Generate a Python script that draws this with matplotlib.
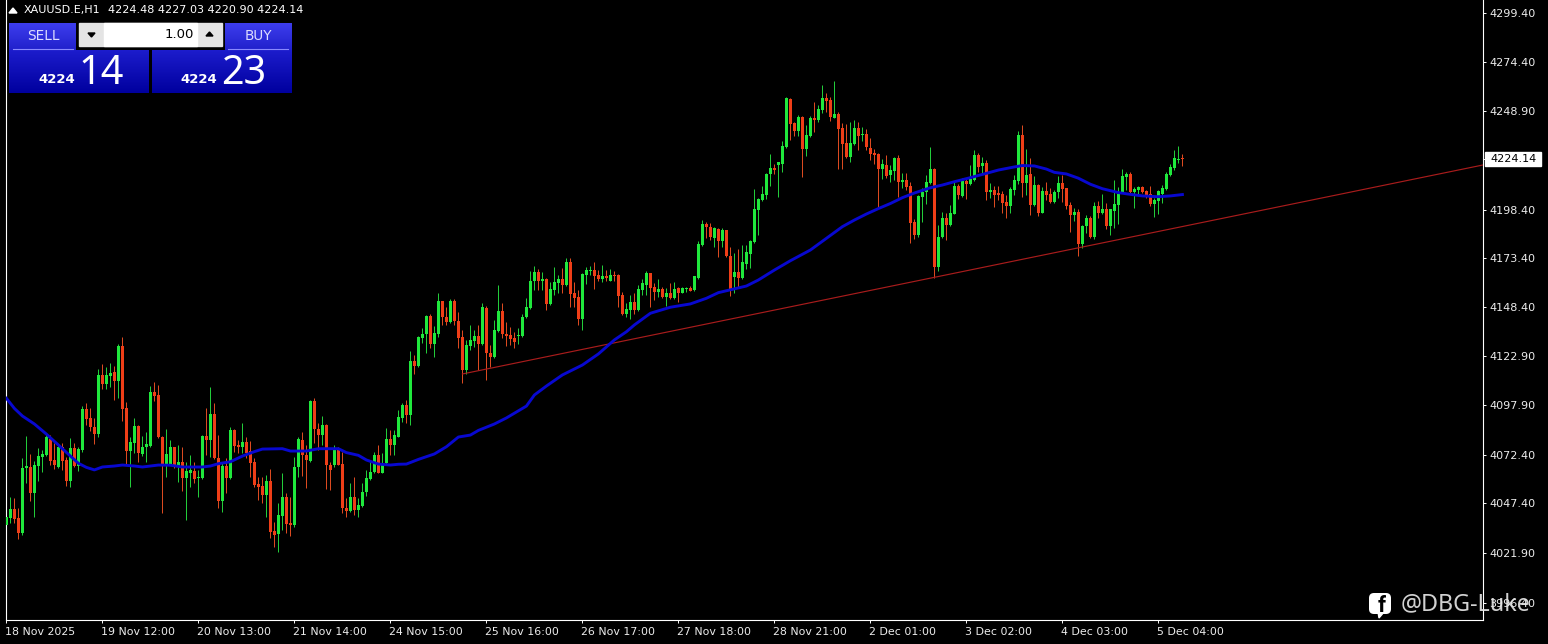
import numpy as np
from matplotlib import pyplot as plt
from matplotlib.patches import FancyBboxPatch, Polygon, Rectangle
from matplotlib.transforms import ScaledTranslation

# hourly XAUUSD candles
opens = [
    4036.3, 4039.7, 4044.5, 4039.7, 4032.0, 4065.4, 4065.9, 4052.9, 4066.6, 4071.1,
    4072.3, 4080.3, 4069.7, 4065.9, 4076.5, 4069.7, 4059.1, 4075.9, 4066.6, 4074.8,
    4095.7, 4091.1, 4086.8, 4083.0, 4113.4, 4108.8, 4112.9, 4114.9, 4110.5, 4128.3,
    4096.2, 4074.5, 4078.3, 4087.2, 4072.8, 4076.2, 4076.9, 4104.5, 4103.1, 4081.3,
    4067.6, 4067.6, 4076.2, 4066.3, 4068.7, 4060.3, 4063.2, 4064.2, 4060.3, 4060.3,
    4082.0, 4080.0, 4093.3, 4070.5, 4048.8, 4066.6, 4060.3, 4085.1, 4077.4, 4076.5,
    4079.1, 4074.5, 4068.5, 4057.4, 4056.3, 4051.7, 4059.1, 4033.2, 4031.7, 4040.9,
    4050.5, 4037.5, 4036.3, 4065.9, 4080.0, 4072.3, 4069.3, 4099.8, 4085.8, 4082.5,
    4087.7, 4067.3, 4067.3, 4074.8, 4067.6, 4045.2, 4043.5, 4050.5, 4044.0, 4046.0,
    4053.4, 4059.9, 4063.4, 4072.1, 4063.2, 4068.0, 4080.5, 4077.4, 4081.7, 4091.1,
    4097.8, 4092.8, 4120.5, 4118.0, 4132.5, 4134.4, 4143.7, 4129.3, 4134.5, 4151.3,
    4143.0, 4140.8, 4151.6, 4141.3, 4132.8, 4116.0, 4128.3, 4131.1, 4133.4, 4129.3,
    4147.7, 4124.9, 4122.5, 4136.2, 4146.3, 4134.5, 4133.8, 4132.2, 4133.4, 4133.4,
    4143.0, 4147.7, 4161.9, 4166.5, 4161.9, 4162.7, 4149.7, 4157.1, 4160.9, 4162.7,
    4159.7, 4171.6, 4155.4, 4153.3, 4142.2, 4164.8, 4167.0, 4167.4, 4164.8, 4162.6,
    4164.3, 4161.9, 4164.6, 4164.8, 4154.5, 4144.8, 4146.8, 4150.9, 4146.8, 4157.1,
    4159.5, 4165.7, 4158.5, 4156.1, 4157.4, 4153.3, 4155.4, 4152.8, 4157.9, 4155.7,
    4157.4, 4158.1, 4157.1, 4163.1, 4180.2, 4191.0, 4189.3, 4183.6, 4188.3, 4182.4,
    4187.9, 4174.6, 4163.6, 4166.2, 4163.1, 4170.4, 4175.6, 4181.9, 4198.1, 4203.3,
    4205.8, 4216.6, 4220.0, 4221.3, 4221.6, 4230.7, 4255.2, 4243.0, 4238.7, 4246.1,
    4229.5, 4236.3, 4245.6, 4244.4, 4249.5, 4255.5, 4254.7, 4245.6, 4247.3, 4240.1,
    4232.4, 4225.2, 4232.0, 4240.1, 4236.7, 4237.0, 4229.8, 4227.2, 4226.9, 4219.2,
    4221.3, 4216.1, 4218.2, 4224.7, 4212.7, 4213.4, 4210.5, 4191.8, 4185.3, 4204.8,
    4207.2, 4211.8, 4219.0, 4169.0, 4184.1, 4193.8, 4190.4, 4196.2, 4210.3, 4205.5,
    4213.0, 4211.4, 4213.6, 4226.4, 4220.8, 4222.2, 4207.3, 4208.3, 4206.9, 4206.4,
    4202.1, 4200.2, 4208.5, 4213.1, 4236.7, 4211.9, 4216.5, 4200.7, 4211.0, 4196.8,
    4207.9, 4206.2, 4202.1, 4207.3, 4212.1, 4209.3, 4200.7, 4195.6, 4196.9, 4180.5,
    4190.1, 4193.9, 4184.3, 4200.4, 4196.6, 4198.7, 4190.0, 4197.7, 4200.7, 4207.3,
    4215.1, 4216.7, 4207.3, 4208.3, 4210.0, 4208.0, 4206.2, 4201.1, 4202.8, 4206.6,
    4209.0, 4216.2, 4219.6, 4224.0, 4224.48,
]
highs = [
    4047.4, 4050.5, 4050.0, 4044.9, 4070.5, 4082.0, 4072.8, 4069.3, 4075.7, 4074.8,
    4083.0, 4082.5, 4078.3, 4077.4, 4078.3, 4071.4, 4080.8, 4078.3, 4076.5, 4097.4,
    4098.8, 4096.2, 4091.1, 4116.3, 4119.0, 4117.3, 4119.7, 4118.0, 4129.3, 4132.7,
    4099.7, 4081.3, 4091.1, 4087.7, 4082.0, 4084.3, 4107.7, 4110.0, 4108.2, 4082.0,
    4085.5, 4080.0, 4076.5, 4077.4, 4076.5, 4068.8, 4072.3, 4068.8, 4064.5, 4082.5,
    4096.2, 4107.0, 4098.8, 4082.5, 4068.0, 4070.5, 4086.8, 4085.5, 4080.0, 4088.5,
    4081.3, 4079.6, 4070.5, 4061.1, 4061.1, 4062.0, 4064.9, 4038.0, 4047.4, 4063.2,
    4052.6, 4050.9, 4071.4, 4081.3, 4084.3, 4077.4, 4100.5, 4101.4, 4088.5, 4092.3,
    4088.2, 4068.8, 4077.4, 4076.2, 4074.0, 4050.0, 4058.0, 4061.1, 4050.0, 4057.7,
    4064.5, 4069.7, 4074.0, 4077.4, 4073.1, 4086.0, 4085.1, 4085.1, 4095.4, 4098.8,
    4100.5, 4125.7, 4123.6, 4133.4, 4137.3, 4144.2, 4144.7, 4138.5, 4155.7, 4151.6,
    4148.2, 4152.3, 4152.3, 4146.0, 4136.5, 4131.4, 4139.1, 4136.5, 4139.1, 4150.6,
    4148.9, 4128.8, 4141.7, 4159.7, 4150.6, 4140.8, 4138.2, 4135.7, 4137.4, 4144.8,
    4152.8, 4167.0, 4169.4, 4167.7, 4166.5, 4163.1, 4161.4, 4169.1, 4164.8, 4168.2,
    4173.4, 4173.4, 4161.4, 4157.1, 4166.0, 4169.1, 4169.4, 4171.6, 4167.4, 4169.9,
    4167.4, 4167.7, 4167.0, 4165.3, 4156.2, 4150.2, 4154.5, 4155.4, 4159.7, 4162.6,
    4167.0, 4166.0, 4160.5, 4162.6, 4158.8, 4157.9, 4160.5, 4161.4, 4158.5, 4158.8,
    4158.8, 4159.1, 4164.3, 4182.4, 4193.0, 4192.2, 4191.7, 4189.3, 4188.8, 4188.8,
    4187.9, 4179.4, 4175.9, 4178.0, 4180.2, 4180.2, 4182.8, 4208.9, 4204.5, 4210.6,
    4217.0, 4226.9, 4221.6, 4222.8, 4233.6, 4256.2, 4255.5, 4243.5, 4246.9, 4246.6,
    4241.8, 4246.6, 4253.5, 4252.1, 4262.4, 4258.1, 4256.4, 4264.4, 4248.3, 4242.7,
    4242.2, 4243.5, 4244.4, 4243.5, 4241.0, 4239.7, 4235.3, 4229.5, 4227.2, 4224.3,
    4226.4, 4221.3, 4225.5, 4226.4, 4217.0, 4217.0, 4212.7, 4193.5, 4205.8, 4209.3,
    4216.1, 4230.5, 4219.5, 4190.4, 4196.9, 4196.4, 4200.7, 4212.3, 4211.3, 4214.4,
    4214.1, 4221.3, 4229.0, 4227.6, 4225.6, 4223.9, 4211.9, 4210.7, 4210.7, 4207.9,
    4205.9, 4210.2, 4216.2, 4238.8, 4241.9, 4229.5, 4224.7, 4215.7, 4211.4, 4210.2,
    4212.4, 4209.7, 4208.5, 4215.8, 4216.2, 4209.7, 4202.1, 4199.0, 4198.7, 4190.5,
    4195.6, 4195.3, 4202.1, 4202.8, 4206.2, 4201.6, 4198.7, 4213.6, 4210.2, 4219.2,
    4217.9, 4217.5, 4210.2, 4210.7, 4210.7, 4208.5, 4210.7, 4204.5, 4208.5, 4211.0,
    4217.5, 4221.6, 4229.0, 4231.2, 4227.03,
]
lows = [
    4030.3, 4037.5, 4037.1, 4029.3, 4031.2, 4057.7, 4048.8, 4040.6, 4059.1, 4063.7,
    4071.7, 4067.1, 4064.9, 4065.6, 4064.6, 4056.3, 4055.6, 4065.9, 4064.2, 4074.0,
    4087.7, 4084.8, 4077.9, 4081.3, 4106.0, 4106.0, 4107.4, 4100.5, 4101.4, 4089.9,
    4067.1, 4055.6, 4073.5, 4068.8, 4071.8, 4068.8, 4076.5, 4100.2, 4080.8, 4042.3,
    4061.1, 4067.1, 4065.4, 4058.6, 4053.9, 4038.9, 4056.0, 4058.0, 4050.9, 4059.9,
    4072.3, 4071.4, 4070.0, 4044.9, 4043.1, 4052.6, 4059.8, 4074.0, 4073.1, 4073.1,
    4070.5, 4061.1, 4056.0, 4049.1, 4047.8, 4040.2, 4029.4, 4024.8, 4022.6, 4033.7,
    4032.0, 4030.6, 4035.4, 4061.1, 4061.5, 4055.1, 4068.8, 4078.3, 4074.8, 4077.4,
    4054.6, 4054.3, 4066.3, 4067.1, 4042.6, 4040.6, 4043.1, 4041.4, 4040.2, 4045.7,
    4051.4, 4059.4, 4062.8, 4062.8, 4062.8, 4067.6, 4072.3, 4072.3, 4081.3, 4089.4,
    4088.5, 4087.7, 4113.9, 4117.6, 4130.0, 4124.5, 4127.4, 4122.8, 4133.1, 4139.1,
    4139.1, 4140.3, 4139.1, 4127.1, 4109.5, 4113.9, 4126.3, 4128.0, 4116.0, 4128.8,
    4110.8, 4117.3, 4122.0, 4135.7, 4132.2, 4128.3, 4128.8, 4127.1, 4129.3, 4133.1,
    4142.5, 4147.2, 4157.1, 4157.1, 4157.1, 4146.8, 4149.4, 4154.5, 4155.4, 4155.7,
    4159.1, 4148.5, 4148.5, 4139.1, 4136.5, 4160.2, 4164.8, 4157.6, 4161.9, 4161.4,
    4161.9, 4161.5, 4161.9, 4148.5, 4144.2, 4143.0, 4142.0, 4144.8, 4146.5, 4154.5,
    4154.5, 4148.2, 4151.9, 4153.3, 4152.8, 4148.9, 4152.3, 4152.3, 4151.1, 4155.4,
    4156.2, 4156.4, 4156.7, 4162.7, 4179.7, 4183.6, 4182.8, 4179.0, 4174.2, 4179.0,
    4173.9, 4154.0, 4155.7, 4158.5, 4162.6, 4167.7, 4168.2, 4181.3, 4185.3, 4202.7,
    4203.8, 4210.6, 4216.8, 4205.0, 4217.8, 4230.2, 4234.1, 4236.3, 4236.3, 4215.3,
    4226.0, 4235.8, 4238.4, 4243.2, 4247.8, 4248.7, 4243.9, 4245.2, 4219.2, 4219.2,
    4224.7, 4222.6, 4231.5, 4229.0, 4233.6, 4229.0, 4223.8, 4221.6, 4199.3, 4214.0,
    4214.4, 4212.7, 4213.5, 4205.0, 4209.3, 4208.4, 4181.0, 4183.2, 4184.4, 4192.1,
    4201.5, 4211.3, 4163.0, 4166.8, 4183.6, 4182.7, 4190.1, 4195.9, 4203.8, 4205.0,
    4203.8, 4211.0, 4213.3, 4217.5, 4217.0, 4203.3, 4204.2, 4199.9, 4203.3, 4196.8,
    4194.2, 4196.8, 4205.9, 4211.4, 4205.0, 4205.9, 4195.6, 4200.4, 4195.3, 4196.5,
    4203.3, 4201.8, 4201.8, 4204.2, 4202.1, 4198.7, 4187.0, 4192.5, 4174.7, 4178.5,
    4186.2, 4184.0, 4183.3, 4193.9, 4196.3, 4188.4, 4185.3, 4188.8, 4190.8, 4206.7,
    4208.5, 4206.7, 4199.4, 4205.9, 4207.1, 4204.2, 4200.4, 4194.8, 4196.1, 4201.6,
    4208.5, 4215.8, 4218.7, 4222.2, 4220.9,
]
closes = [
    4040.6, 4044.5, 4039.4, 4032.3, 4065.4, 4066.6, 4052.9, 4067.1, 4071.7, 4072.8,
    4081.7, 4069.3, 4067.1, 4076.5, 4069.3, 4059.1, 4075.9, 4066.6, 4075.2, 4095.9,
    4090.8, 4086.8, 4083.0, 4113.4, 4108.8, 4113.4, 4114.6, 4110.5, 4128.3, 4096.1,
    4074.5, 4079.1, 4087.2, 4073.5, 4076.5, 4077.9, 4104.8, 4102.6, 4081.3, 4067.6,
    4072.8, 4076.2, 4067.1, 4068.7, 4060.3, 4064.2, 4064.5, 4059.9, 4061.1, 4082.0,
    4080.0, 4093.3, 4070.5, 4048.8, 4066.6, 4060.3, 4085.1, 4076.9, 4076.2, 4079.1,
    4073.5, 4068.3, 4056.8, 4056.0, 4051.7, 4059.1, 4032.9, 4031.2, 4041.4, 4050.5,
    4036.8, 4036.3, 4066.3, 4080.3, 4072.3, 4069.7, 4100.2, 4085.5, 4082.5, 4087.7,
    4067.3, 4064.5, 4075.2, 4067.3, 4044.9, 4043.5, 4050.5, 4044.0, 4046.6, 4053.4,
    4060.3, 4063.4, 4072.1, 4063.2, 4067.6, 4080.3, 4077.4, 4082.5, 4091.6, 4097.8,
    4092.8, 4120.5, 4118.2, 4133.0, 4134.4, 4143.7, 4129.3, 4135.1, 4151.6, 4143.0,
    4140.8, 4151.6, 4141.3, 4132.2, 4116.0, 4128.8, 4131.4, 4133.4, 4129.3, 4148.2,
    4124.9, 4122.5, 4136.5, 4146.3, 4134.5, 4133.4, 4131.7, 4130.4, 4134.0, 4143.4,
    4148.2, 4161.9, 4166.3, 4161.9, 4162.6, 4149.9, 4157.6, 4161.4, 4162.7, 4159.7,
    4171.6, 4155.0, 4153.1, 4142.2, 4165.3, 4167.4, 4167.4, 4164.5, 4162.6, 4164.5,
    4163.1, 4164.8, 4164.3, 4154.0, 4144.8, 4147.3, 4150.9, 4146.8, 4157.6, 4160.5,
    4166.0, 4157.9, 4156.1, 4157.4, 4153.3, 4155.4, 4152.8, 4157.8, 4155.7, 4158.3,
    4158.1, 4156.7, 4164.0, 4180.7, 4191.0, 4189.3, 4184.2, 4188.8, 4182.4, 4187.9,
    4174.6, 4157.4, 4166.5, 4163.3, 4171.6, 4176.8, 4182.4, 4198.6, 4203.8, 4206.2,
    4216.6, 4220.0, 4218.8, 4222.6, 4231.2, 4255.9, 4242.3, 4238.7, 4246.1, 4229.5,
    4236.7, 4245.6, 4244.4, 4250.0, 4255.5, 4254.1, 4246.1, 4247.3, 4239.8, 4232.0,
    4225.2, 4232.4, 4240.1, 4236.3, 4237.0, 4230.7, 4226.7, 4226.4, 4219.2, 4221.9,
    4215.8, 4218.5, 4225.0, 4212.7, 4213.4, 4210.1, 4191.6, 4185.3, 4205.5, 4207.2,
    4212.3, 4219.2, 4169.0, 4184.4, 4193.8, 4190.4, 4196.6, 4210.3, 4205.8, 4213.0,
    4211.7, 4214.1, 4226.4, 4220.4, 4222.2, 4207.6, 4208.5, 4205.9, 4205.9, 4201.9,
    4200.2, 4209.0, 4213.6, 4236.7, 4211.9, 4216.2, 4200.7, 4211.0, 4196.5, 4207.9,
    4205.9, 4202.1, 4207.6, 4212.1, 4209.0, 4200.4, 4195.6, 4197.3, 4180.5, 4190.1,
    4194.2, 4184.5, 4200.4, 4196.5, 4198.7, 4190.1, 4198.5, 4201.1, 4206.2, 4215.8,
    4216.9, 4207.3, 4209.0, 4210.2, 4207.6, 4205.9, 4201.1, 4203.3, 4208.0, 4209.7,
    4216.7, 4220.4, 4224.7, 4224.4, 4224.14,
]

# moving average, read at these bars
ma_bars = [
    0, 2, 4, 7, 10, 13, 16, 18, 20, 22, 24, 27, 29, 32, 34, 38, 41, 44, 49, 51,
    53, 56, 59, 62, 64, 69, 71, 75, 78, 83, 85, 88, 90, 93, 96, 98, 100, 103, 107,
    110, 113, 116, 118, 122, 125, 130, 132, 135, 139, 144, 148, 152, 155, 157,
    161, 166, 171, 175, 178, 185, 188, 192, 196, 201, 205, 209, 212, 215,
    218, 221, 224, 227, 231, 234, 237, 241, 245, 248, 252, 254, 257, 260, 262,
    265, 268, 271, 274, 278, 281, 284, 288, 291, 294,
]
ma_values = [
    4101.4, 4096.2, 4092.3, 4088.2, 4083.0, 4077.4, 4071.7, 4068.0, 4065.9, 4064.6,
    4066.1, 4066.6, 4067.1, 4066.6, 4066.1, 4067.1, 4067.0, 4066.1, 4066.1, 4066.6,
    4067.8, 4068.8, 4071.7, 4074.0, 4075.3, 4075.5, 4074.3, 4074.3, 4075.5, 4075.5,
    4073.5, 4072.1, 4069.7, 4067.6, 4067.1, 4067.5, 4067.6, 4070.0, 4072.8, 4076.5,
    4081.5, 4082.5, 4084.9, 4088.2, 4091.3, 4097.4, 4103.1, 4107.7, 4113.4, 4118.5,
    4124.2, 4131.4, 4135.6, 4139.1, 4145.1, 4148.2, 4149.9, 4152.8, 4155.7, 4159.1,
    4162.2, 4167.3, 4172.1, 4177.6, 4183.6, 4189.6, 4193.0, 4196.1, 4198.9,
    4201.5, 4204.5, 4206.9, 4209.6, 4211.0, 4212.7, 4214.8, 4217.0, 4218.7, 4220.3,
    4221.0, 4220.8, 4219.2, 4217.5, 4216.7, 4214.5, 4211.4, 4209.1, 4207.1, 4206.2,
    4205.4, 4205.0, 4205.4, 4206.1,
]

# trend line anchors, it runs off the right edge
trend_bars = [114, 369.15]
trend_prices = [4113.9, 4221.3]

price_ticks = [4299.4, 4274.4, 4248.9, 4198.4, 4173.4, 4148.4, 4122.9, 4097.9,
               4072.4, 4047.4, 4021.9, 3996.4, 4224.14]
price_labels = ['4299.40', '4274.40', '4248.90', '4198.40', '4173.40', '4148.40', '4122.90',
                '4097.90', '4072.40', '4047.40', '4021.90', '3996.40', '']
time_ticks = [0, 24, 48, 72, 96, 120, 144, 168, 192, 216, 240, 264, 288]
time_labels = ['18 Nov 2025', '19 Nov 12:00', '20 Nov 13:00', '21 Nov 14:00', '24 Nov 15:00',
               '25 Nov 16:00', '26 Nov 17:00', '27 Nov 18:00', '28 Nov 21:00', '2 Dec 01:00',
               '3 Dec 02:00', '4 Dec 03:00', '5 Dec 04:00']

header = 'XAUUSD.E,H1'
header_ohlc = '4224.48 4227.03 4220.90 4224.14'
last_price = '4224.14'
sell_big, sell_small = '4224', '14'
buy_big, buy_small = '4224', '23'
lot_size = '1.00'

GREEN = '#1fe83c'
RED = '#ef3e17'
W = 1548
H = 644

o = np.array(opens)
c = np.array(closes)
bars = np.arange(len(o))
colors = [GREEN if up else RED for up in c >= o]
wick_colors = ['#22cc3a' if up else '#dc4a20' for up in c >= o]

fig = plt.figure(figsize=(W / 100, H / 100), dpi=100, facecolor='black')
ax = fig.add_axes([6 / W, 24 / H, (1483 - 6) / W, 620 / H], facecolor='black')

wicks = ax.vlines(bars, lows, highs, colors=wick_colors, linewidth=0.72, zorder=2)
wicks.set_snap(True)
body = np.maximum(np.abs(c - o), 0.5)
ax.bar(bars, body, bottom=np.minimum(o, c), width=0.74, color=colors, linewidth=0, snap=True, zorder=3)
ax.plot(trend_bars, trend_prices, color='#a81c1c', linewidth=0.85, zorder=4)
ax.plot(ma_bars, ma_values, color='#0808cf', linewidth=2.1, zorder=5)

# exactly 4 px per bar so wicks stay centred in the bodies
ax.set_xlim(-0.1, 369.15)
ax.set_ylim(3987.47, 4306.08)
ax.spines['top'].set_visible(False)
for side in ['left', 'right', 'bottom']:
    ax.spines[side].set_color('white')
    ax.spines[side].set_linewidth(0.8)

ax.yaxis.tick_right()
ax.set_yticks(price_ticks)
ax.set_yticklabels(price_labels)
ax.set_xticks(time_ticks)
ax.set_xticklabels(time_labels, ha='left')
ax.tick_params(axis='both', colors='white', length=2.5, width=0.7, labelcolor='#ececec')
ax.tick_params(axis='y', pad=2.2, labelsize=8.0)
ax.tick_params(axis='x', pad=2.5, labelsize=7.9)
nudge = ScaledTranslation(-1 / 100, 0, fig.dpi_scale_trans)
for lab in ax.get_xticklabels():
    lab.set_transform(lab.get_transform() + nudge)

# overlay in pixel units for the trade panel, price tag and watermark
top = fig.add_axes([0, 0, 1, 1], facecolor='none', zorder=10)
top.set_xlim(0, W)
top.set_ylim(H, 0)
top.axis('off')


def gradient(x0, x1, y0, y1, c0, c1):
    ramp = np.linspace(0, 1, 32)[:, None, None]
    img = np.array(c0)[None, None, :] * (1 - ramp) + np.array(c1)[None, None, :] * ramp
    top.imshow(img, extent=(x0, x1, y1, y0), aspect='auto', interpolation='bilinear', zorder=1)


top.add_patch(Polygon([(9, 13), (17, 13), (13, 8)], color='white', zorder=2))
top.text(24, 10, header, color='white', fontsize=8.0, va='center', ha='left')
top.text(108, 10, header_ohlc, color='white', fontsize=8.05, va='center', ha='left')

# sell and buy buttons
gradient(9, 76, 23, 50, (0.24, 0.24, 0.93), (0.13, 0.13, 0.80))
gradient(225, 292, 23, 50, (0.24, 0.24, 0.93), (0.13, 0.13, 0.80))
gradient(9, 149, 50, 93, (0.11, 0.11, 0.80), (0.0, 0.0, 0.62))
gradient(152, 292, 50, 93, (0.11, 0.11, 0.80), (0.0, 0.0, 0.62))
top.plot([13, 73], [49, 49], color='#8a8aff', linewidth=0.8, zorder=2)
top.plot([228, 288], [49, 49], color='#8a8aff', linewidth=0.8, zorder=2)
top.text(43, 35.5, 'SELL', color='#dcdcff', fontsize=9.8, ha='center', va='center', zorder=3)
top.text(258, 35.5, 'BUY', color='#dcdcff', fontsize=9.8, ha='center', va='center', zorder=3)

top.text(57, 79, sell_big, color='white', fontsize=9.5, fontweight='bold', ha='center', va='center', zorder=3)
top.text(199, 79, buy_big, color='white', fontsize=9.5, fontweight='bold', ha='center', va='center', zorder=3)
top.text(101, 74, sell_small, color='white', fontsize=28.5, family='Noto Sans', ha='center', va='center', zorder=3)
top.text(243.5, 74, buy_small, color='white', fontsize=28.5, family='Noto Sans', ha='center', va='center', zorder=3)

# lot spinner
top.add_patch(Rectangle((79, 23), 143, 23, color='#e4e4e4', zorder=2))
top.add_patch(Rectangle((104, 23), 93, 23, color='white', zorder=3))
top.add_patch(Polygon([(88, 33), (95, 33), (91.5, 37)], color='black', zorder=4))
top.add_patch(Polygon([(206, 36), (213, 36), (209.5, 32)], color='black', zorder=4))
top.text(194, 34.5, lot_size, color='black', fontsize=9.5, ha='right', va='center', zorder=4)

# current price tag
top.add_patch(Rectangle((1485, 152), 56, 14, color='white', zorder=2))
top.text(1490, 159, last_price, color='black', fontsize=8.0, ha='left', va='center', zorder=3)

# watermark over the bottom of the price axis
top.add_patch(FancyBboxPatch((1372, 596), 16, 15, boxstyle='round,pad=3,rounding_size=5',
                             color='white', linewidth=0, zorder=6))
top.add_patch(Polygon([(1378, 612), (1384, 612), (1379, 618)], color='white', zorder=6))
top.text(1381.5, 606, 'f', color='black', fontsize=16, fontweight='bold', family='Roboto',
         ha='center', va='center', zorder=7)
top.text(1401, 604, '@DBG-Luke', color='#e4e4e4', fontsize=16.8, family='Noto Sans',
         ha='left', va='center', alpha=0.92, zorder=7)

top.set_xlim(0, W)
top.set_ylim(H, 0)

fig.savefig('out.png', dpi=100, facecolor='black')
